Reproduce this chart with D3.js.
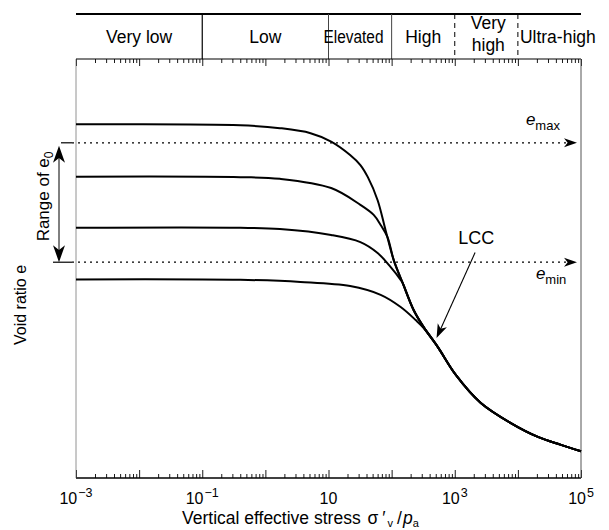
<!DOCTYPE html>
<html><head><meta charset="utf-8">
<script src="https://cdn.jsdelivr.net/npm/d3@7"></script>
<style>
body{margin:0;background:#fff}
svg{display:block}
text{font-family:"Liberation Sans",Arial,Helvetica,sans-serif;fill:#000}
</style>
</head><body>
<svg id="c" width="609" height="530"></svg>
<script>
// ---------- data ----------
const tickValues = [1e-3, 1e-1, 10, 1e3, 1e5];
const tickBase = ["10", "10", "10", "10", "10"];
const tickExp = ["\u22123", "\u22121", "", "3", "5"];

const bandNames = ["Very low", "Low", "Elevated", "High", "Very high", "Ultra-high"];
const bandBounds = [1e-3, 1e-1, 10, 100, 1e3, 1e4, 1e5];
const dividerStyle = ["solid", "light", "light", "dashed", "dashed"]; // dividers at bandBounds[1..5]

const eMax = 1.0;
const eMin = 0.715;

// limiting compression curve (LCC)
const lccStress = [60, 80, 108, 150, 223, 322, 537, 1040, 2590, 7740, 20750, 48200, 100000];
const lccVoid   = [0.863, 0.792, 0.720, 0.665, 0.601, 0.560, 0.513, 0.446, 0.379, 0.331, 0.298, 0.279, 0.264];

// compression curves for different initial void ratios (before joining LCC)
const curve1Stress = [0.001, 0.4, 1.7, 5.2, 11, 22, 32, 42];
const curve1Void   = [1.044, 1.042, 1.035, 1.023, 1.003, 0.971, 0.947, 0.918];
const curve2Stress = [0.001, 0.4, 1.7, 11, 32, 52, 67, 86];
const curve2Void   = [0.919, 0.918, 0.914, 0.892, 0.852, 0.828, 0.804, 0.775];
const curve3Stress = [0.001, 0.4, 1.7, 11, 32, 60, 96, 139];
const curve3Void   = [0.797, 0.797, 0.794, 0.780, 0.763, 0.737, 0.704, 0.673];
const curve4Stress = [0.001, 0.4, 3.6, 22, 67, 139, 240, 322];
const curve4Void   = [0.674, 0.673, 0.668, 0.658, 0.637, 0.608, 0.577, 0.558];

// LCC annotation
const lccLabelPos = [2200, 0.758];
const lccArrowFrom = [2100, 0.738];
const lccArrowTo = [515, 0.534];

// ---------- layout ----------
const W = 609, H = 530;
const m = {left: 76, right: 28, top: 59, bottom: 52};
const headerTop = 14;
const FONT = 17.5;

const svg = d3.select("#c");
const x = d3.scaleLog().domain([1e-3, 1e5]).range([m.left, W - m.right]);
const y = d3.scaleLinear().domain([0.2, 1.2]).range([H - m.bottom, m.top]);
const x0 = x.range()[0], x1 = x.range()[1];
const yb = y.range()[0], yt = y.range()[1];

function arrowHead(xa, ya, xb, yb2, len, hw) {
  const a = Math.atan2(yb2 - ya, xb - xa);
  const bx = xb - len * Math.cos(a), by = yb2 - len * Math.sin(a);
  const nx = -Math.sin(a), ny = Math.cos(a);
  const ix = xb - len * 0.72 * Math.cos(a), iy = yb2 - len * 0.72 * Math.sin(a);
  return `M${xb},${yb2}L${bx + nx * hw},${by + ny * hw}L${ix},${iy}L${bx - nx * hw},${by - ny * hw}Z`;
}

// ---------- header band ----------
svg.append("line").attr("x1", x0).attr("x2", x1).attr("y1", headerTop).attr("y2", headerTop)
  .attr("stroke", "#000").attr("stroke-width", 2);
bandBounds.slice(1, 6).forEach((b, i) => {
  const st = dividerStyle[i];
  svg.append("line").attr("x1", x(b)).attr("x2", x(b)).attr("y1", headerTop).attr("y2", yt)
    .attr("stroke", st === "light" ? "#444" : "#000")
    .attr("stroke-width", st === "solid" ? 1.2 : 1)
    .attr("stroke-dasharray", st === "dashed" ? "5,4" : null);
});
bandNames.forEach((n, i) => {
  const cx = (x(bandBounds[i]) + x(bandBounds[i + 1])) / 2;
  if (n === "Very high") {
    const t = svg.append("text").attr("text-anchor", "middle").attr("font-size", FONT);
    t.append("tspan").attr("x", cx + 2).attr("y", 29).text("Very");
    t.append("tspan").attr("x", cx + 2).attr("y", 51).text("high");
  } else if (n === "Ultra-high") {
    svg.append("text").attr("x", x(bandBounds[i]) + 2).attr("y", 42.5).attr("font-size", FONT).text(n);
  } else if (n === "Elevated") {
    svg.append("text").attr("x", x(bandBounds[i]) - 5).attr("y", 42.5).attr("font-size", FONT)
      .attr("textLength", 60).attr("lengthAdjust", "spacingAndGlyphs").text(n);
  } else {
    svg.append("text").attr("x", cx).attr("y", 42.5).attr("text-anchor", "middle").attr("font-size", FONT).text(n);
  }
});

// ---------- axes ----------
const majors = d3.range(-3, 6).map(d => Math.pow(10, d));
const minors = [];
d3.range(-3, 5).forEach(d => { for (let k = 2; k <= 9; k++) minors.push(k * Math.pow(10, d)); });

function drawTicks(g, gen, vals, size) {
  g.call(gen(x).tickValues(vals).tickSize(size).tickFormat(""));
  g.select(".domain").remove();
  g.selectAll(".tick line").attr("stroke", "#000").attr("stroke-width", 0.9);
}
drawTicks(svg.append("g").attr("transform", `translate(0,${yb})`), d3.axisBottom, minors, -4);
drawTicks(svg.append("g").attr("transform", `translate(0,${yb})`), d3.axisBottom, majors, -8);
drawTicks(svg.append("g").attr("transform", `translate(0,${yt})`), d3.axisTop, minors, -4);
drawTicks(svg.append("g").attr("transform", `translate(0,${yt})`), d3.axisTop, majors, -7);

// frame
svg.append("line").attr("x1", x0).attr("x2", x1).attr("y1", yb).attr("y2", yb).attr("stroke", "#000").attr("stroke-width", 1.6);
svg.append("line").attr("x1", x0).attr("x2", x1).attr("y1", yt).attr("y2", yt).attr("stroke", "#000").attr("stroke-width", 1.1);
svg.append("line").attr("x1", x0).attr("x2", x0).attr("y1", yt).attr("y2", yb).attr("stroke", "#777").attr("stroke-width", 0.8);
svg.append("line").attr("x1", x1).attr("x2", x1).attr("y1", yt).attr("y2", yb).attr("stroke", "#555").attr("stroke-width", 1);

// tick labels
tickValues.forEach((v, i) => {
  const t = svg.append("text").attr("x", x(v)).attr("y", yb + 26).attr("text-anchor", "middle").attr("font-size", 16);
  t.append("tspan").text(tickBase[i]);
  if (tickExp[i]) t.append("tspan").attr("font-size", 12.5).attr("dx", 1).attr("dy", -7).text(tickExp[i]);
});

// axis titles
const xt = svg.append("text").attr("x", 182).attr("y", H - 6).attr("font-size", 17.5);
xt.append("tspan").text("Vertical effective stress ");
xt.append("tspan").attr("dx", 2).text("\u03C3");
xt.append("tspan").attr("dx", 4).text("\u2032");
xt.append("tspan").attr("font-size", 11).attr("dx", 2).attr("dy", 3).text("v");
xt.append("tspan").attr("dx", 4).attr("dy", -3).text("/");
xt.append("tspan").attr("dx", 1).attr("font-style", "italic").text("p");
xt.append("tspan").attr("font-size", 11).attr("dy", 3).text("a");

svg.append("text").attr("transform", `translate(26,${y(0.613)}) rotate(-90)`)
  .attr("text-anchor", "middle").attr("font-size", 16).text("Void ratio e");
const rt = svg.append("text").attr("transform", `translate(49,${y(0.872)}) rotate(-90)`)
  .attr("text-anchor", "middle").attr("font-size", 17);
rt.append("tspan").text("Range of e");
rt.append("tspan").attr("font-size", 12).attr("dy", 4).text("0");

// ---------- e_max / e_min reference lines ----------
[[eMax, "max"], [eMin, "min"]].forEach(([e, s]) => {
  const yy = y(e);
  const tipX = x1 - 4;
  svg.append("line").attr("x1", x0 - 4).attr("x2", tipX - 8).attr("y1", yy).attr("y2", yy)
    .attr("stroke", "#000").attr("stroke-width", 1.2).attr("stroke-dasharray", "2,4");
  svg.append("path").attr("d", arrowHead(x0, yy, tipX, yy, 13, 4.5)).attr("fill", "#000");
});
const tmax = svg.append("text").attr("x", x(13400)).attr("y", y(1.042)).attr("font-size", 17);
tmax.append("tspan").attr("font-style", "italic").text("e");
tmax.append("tspan").attr("font-size", 13).attr("dy", 5).text("max");
const tmin = svg.append("text").attr("x", x(19300)).attr("y", y(0.675)).attr("font-size", 17);
tmin.append("tspan").attr("font-style", "italic").text("e");
tmin.append("tspan").attr("font-size", 13).attr("dy", 5).text("min");

// range of e0 double arrow
const ax = x0 - 17;
svg.append("line").attr("x1", x0 - 15).attr("x2", x0 - 4).attr("y1", y(eMax)).attr("y2", y(eMax)).attr("stroke", "#000").attr("stroke-width", 1.2);
svg.append("line").attr("x1", x0 - 23).attr("x2", x0 - 4).attr("y1", y(eMin)).attr("y2", y(eMin)).attr("stroke", "#000").attr("stroke-width", 1.2);
svg.append("line").attr("x1", ax).attr("x2", ax).attr("y1", y(eMax) + 8).attr("y2", y(eMin) - 8).attr("stroke", "#000").attr("stroke-width", 1);
svg.append("path").attr("d", arrowHead(ax, y(eMin), ax, y(eMax) + 3, 17, 6)).attr("fill", "#000");
svg.append("path").attr("d", arrowHead(ax, y(eMax), ax, y(eMin), 17, 6)).attr("fill", "#000");

// ---------- curves ----------
const line = d3.line().x(d => x(d[0])).y(d => y(d[1])).curve(d3.curveCatmullRom.alpha(0.5));
const lccPts = lccStress.map((s, i) => [s, lccVoid[i]]);
[[curve1Stress, curve1Void], [curve2Stress, curve2Void], [curve3Stress, curve3Void], [curve4Stress, curve4Void]]
  .forEach(([S, V]) => {
    const last = S[S.length - 1];
    const pts = S.map((s, i) => [s, V[i]]).concat(lccPts.filter(p => p[0] > last * 1.05));
    svg.append("path").attr("d", line(pts)).attr("fill", "none").attr("stroke", "#000")
      .attr("stroke-width", 2).attr("stroke-linejoin", "round");
  });

// LCC annotation
svg.append("text").attr("x", x(lccLabelPos[0])).attr("y", y(lccLabelPos[1])).attr("text-anchor", "middle")
  .attr("font-size", 18).text("LCC");
const fx = x(lccArrowFrom[0]), fy = y(lccArrowFrom[1]), tx = x(lccArrowTo[0]), ty = y(lccArrowTo[1]);
svg.append("line").attr("x1", fx).attr("y1", fy).attr("x2", tx + (fx - tx) * 0.1).attr("y2", ty + (fy - ty) * 0.1)
  .attr("stroke", "#000").attr("stroke-width", 1.1);
svg.append("path").attr("d", arrowHead(fx, fy, tx, ty, 14, 5)).attr("fill", "#000");
</script>
</body></html>
